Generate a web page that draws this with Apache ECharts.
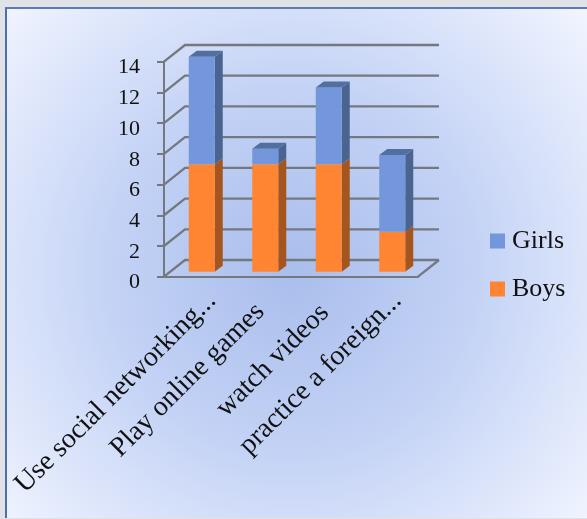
<!DOCTYPE html>
<html><head><meta charset="utf-8">
<style>
html,body{margin:0;padding:0;width:587px;height:519px;overflow:hidden;background:#dfe2e6}
#panel{position:absolute;left:5px;top:7px;width:580px;height:509px;border-left:2px solid #4f6fa8;border-top:2px solid #5f7cb0;
background:radial-gradient(circle 400px at 285px 262px,#aabeec 0%,#c3d2f5 45%,#f3f6ff 100%)}
#chart{position:absolute;left:0;top:0;width:587px;height:519px}
</style>
<script src="https://cdn.jsdelivr.net/npm/echarts@6/dist/echarts.min.js"></script>
</head><body>
<div id="panel"></div><div id="chart"></div>
<script>
const categories = ['Use social networking...', 'Play online games', 'watch videos', 'practice a foreign...'];
const boys = [7, 7, 7, 2.6];
const girls = [7, 1, 5, 5];
const yTicks = [0, 2, 4, 6, 8, 10, 12, 14];

const FONT = '"Liberation Serif", serif';
const GRID_COLOR = '#74787f';
const wallDX = 21, wallDY = 16.7;
const barW = 26, barDX = 8, barDY = 6, barShiftX = 6, barShiftY = 5;
const labelEnds = [[16, 20], [1, 31], [2, 32], [11, 20]];

function wallItem(params, api) {
  const cs = params.coordSys;
  const y = api.coord([0, api.value(0)])[1];
  const l = cs.x, r = cs.x + cs.width;
  const children = [{
    type: 'polyline',
    shape: { points: [[l, y], [l + wallDX, y - wallDY], [r + wallDX, y - wallDY]] },
    style: { stroke: GRID_COLOR, lineWidth: 2.3, fill: null }
  }];
  if (api.value(0) === 0) {
    children.push({ type: 'line', shape: { x1: r, y1: y, x2: r + wallDX, y2: y - wallDY },
      style: { stroke: GRID_COLOR, lineWidth: 2.3 } });
  }
  return { type: 'group', children };
}

function barRender(front, side, top) {
  return function (params, api) {
    const cx = api.coord([api.value(0), 0])[0] + barShiftX;
    const y0 = api.coord([0, api.value(1)])[1] - barShiftY;
    const y1 = api.coord([0, api.value(2)])[1] - barShiftY;
    const l = cx - barW / 2, r = cx + barW / 2;
    const children = [
      { type: 'polygon', shape: { points: [[r, y0], [r + barDX, y0 - barDY], [r + barDX, y1 - barDY], [r, y1]] },
        style: { fill: side } },
      { type: 'rect', shape: { x: l, y: y1, width: barW, height: y0 - y1 }, style: { fill: front } }
    ];
    if (top) children.push({ type: 'polygon',
      shape: { points: [[l, y1], [l + barDX, y1 - barDY], [r + barDX, y1 - barDY], [r, y1]] }, style: { fill: top } });
    return { type: 'group', children };
  };
}

function labelItem(params, api) {
  const i = params.dataIndex;
  const p = api.coord([i, 0]);
  return { type: 'text', x: p[0] + labelEnds[i][0], y: p[1] + labelEnds[i][1], rotation: Math.PI / 4,
    style: { text: categories[i], fill: '#111', font: '28px ' + FONT, textAlign: 'right', textVerticalAlign: 'middle' } };
}

const chart = echarts.init(document.getElementById('chart'), null, { renderer: 'canvas' });
chart.setOption({
  animation: false,
  backgroundColor: 'transparent',
  grid: { left: 164, top: 61.7, width: 254, height: 215 },
  xAxis: { type: 'category', data: categories,
    axisLine: { lineStyle: { color: GRID_COLOR, width: 2 } },
    axisTick: { length: 7, lineStyle: { color: GRID_COLOR, width: 2 } },
    axisLabel: { show: false }, splitLine: { show: false } },
  yAxis: { type: 'value', min: 0, max: 14, interval: 2,
    axisLine: { show: true, lineStyle: { color: GRID_COLOR, width: 2 } },
    axisTick: { show: true, length: 7, lineStyle: { color: GRID_COLOR, width: 2 } },
    axisLabel: { margin: 24, formatter: '{n|{value}}',
      rich: { n: { color: '#111', fontFamily: FONT, fontSize: 22, padding: [12, 0, 0, 0] } } },
    splitLine: { show: false } },
  legend: { orient: 'vertical', left: 490, top: 228, padding: 0, itemWidth: 15, itemHeight: 15, itemGap: 22,
    icon: 'rect', data: ['Girls', 'Boys'], selectedMode: false,
    textStyle: { fontFamily: FONT, fontSize: 26, color: '#111', padding: [0, 0, 0, 2] } },
  series: [
    { type: 'custom', name: 'wall', z: 1, clip: false, silent: true, renderItem: wallItem,
      data: yTicks.map(v => [v]), encode: { y: 0 } },
    { type: 'custom', name: 'Boys', z: 3, clip: false, silent: true, itemStyle: { color: '#FF8533' },
      renderItem: barRender('#FF8533', '#A5561F', null),
      data: boys.map((v, i) => [i, 0, v]), encode: { x: 0, y: [1, 2] } },
    { type: 'custom', name: 'Girls', z: 3, clip: false, silent: true, itemStyle: { color: '#7397DA' },
      renderItem: barRender('#7397DA', '#4A6491', '#51709F'),
      data: girls.map((v, i) => [i, boys[i], boys[i] + v]), encode: { x: 0, y: [1, 2] } },
    { type: 'custom', name: 'labels', z: 4, clip: false, silent: true, renderItem: labelItem,
      data: categories.map((c, i) => [i, 0]), encode: { x: 0, y: 1 } }
  ]
});
</script>
</body></html>
